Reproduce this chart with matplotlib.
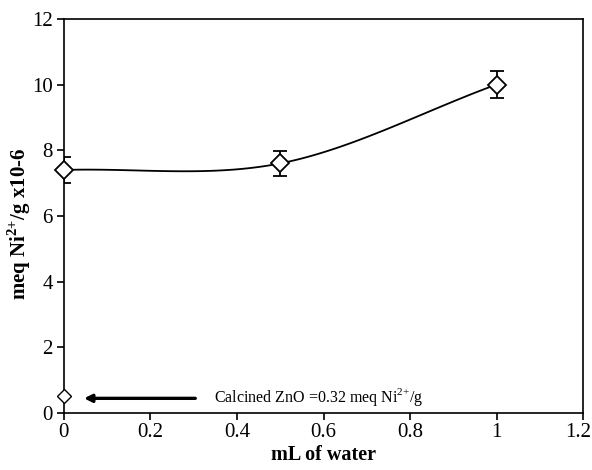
import numpy as np
import matplotlib.pyplot as plt
import matplotlib.transforms as mtransforms

plt.rcParams['font.family'] = ['Liberation Serif', 'DejaVu Serif']
plt.rcParams['mathtext.fontset'] = 'custom'
plt.rcParams['mathtext.rm'] = 'Liberation Serif'
plt.rcParams['mathtext.bf'] = 'Liberation Serif:bold'

water_ml = [0.0, 0.5, 1.0]
ni_uptake = [7.4, 7.6, 10.0]
ni_err = [0.4, 0.37, 0.42]
calcined_x = [0.0]
calcined_y = [0.52]


def smooth_curve(x, y, n=60):
    # Catmull-Rom style smoothing, like a spreadsheet "smoothed line"
    x = np.asarray(x, float)
    y = np.asarray(y, float)
    px = np.concatenate([[2 * x[0] - x[1]], x, [2 * x[-1] - x[-2]]])
    py = np.concatenate([[2 * y[0] - y[1]], y, [2 * y[-1] - y[-2]]])
    xs, ys = [], []
    t = np.linspace(0, 1, n)
    for i in range(1, len(px) - 2):
        p0, p1, p2, p3 = [np.array([px[j], py[j]]) for j in range(i - 1, i + 3)]
        c1 = p1 + (p2 - p0) / 6
        c2 = p2 - (p3 - p1) / 6
        b = ((1 - t) ** 3)[:, None] * p1 + (3 * (1 - t) ** 2 * t)[:, None] * c1 \
            + (3 * (1 - t) * t ** 2)[:, None] * c2 + (t ** 3)[:, None] * p2
        xs.extend(b[:, 0])
        ys.extend(b[:, 1])
    return np.array(xs), np.array(ys)


fig = plt.figure(figsize=(5.92, 4.70), dpi=100)
ax = fig.add_axes([0.108, 0.121, 0.877, 0.839])

sx, sy = smooth_curve(water_ml, ni_uptake)
ax.plot(sx, sy, color='black', lw=1.3, zorder=2)
ax.errorbar(water_ml, ni_uptake, yerr=ni_err, fmt='none', ecolor='black',
            elinewidth=1.3, capsize=5, capthick=1.3, zorder=3)
ax.plot(water_ml, ni_uptake, 'D', ms=9, mfc='white', mec='black', mew=1.3,
        clip_on=False, zorder=4)
ax.plot(calcined_x, calcined_y, 'D', ms=7.5, mfc='white', mec='black', mew=1.0,
        clip_on=False, zorder=4)

ax.annotate('', xy=(0.04, 0.45), xytext=(0.31, 0.45),
            arrowprops=dict(arrowstyle='-|>', color='black', lw=2.4,
                            mutation_scale=11))
ax.text(0.347, 0.5, 'Calcined ZnO =0.32 meq Ni$^{2{+}}$/g', fontsize=11.5,
        va='center', ha='left')

ax.set_xlim(0, 1.2)
ax.set_ylim(0, 12)
ax.set_xticks(np.arange(0, 1.21, 0.2))
ax.set_xticklabels(['0', '0.2', '0.4', '0.6', '0.8', '1', '1.2'])
ax.set_yticks(np.arange(0, 13, 2))
ax.tick_params(direction='out', length=5, width=1.2, labelsize=15,
               top=False, right=False, pad=3)
ax.tick_params(axis='x', pad=2)
for sp in ax.spines.values():
    sp.set_linewidth(1.2)

# last x label sits a little left of its tick so it stays inside the image
last = ax.get_xticklabels()[-1]
last.set_transform(last.get_transform() +
                   mtransforms.ScaledTranslation(-3.5 / 72, 0, fig.dpi_scale_trans))

ax.set_xlabel('mL of water', fontsize=14.5, fontweight='bold')
ax.xaxis.set_label_coords(0.5, -0.08)
ax.set_ylabel('meq Ni$^{\\mathbf{2{+}}}$/g x10-6', fontsize=15,
              fontweight='bold')
ax.yaxis.set_label_coords(-0.06, 0.48)

fig.savefig('out.png', dpi=100)
